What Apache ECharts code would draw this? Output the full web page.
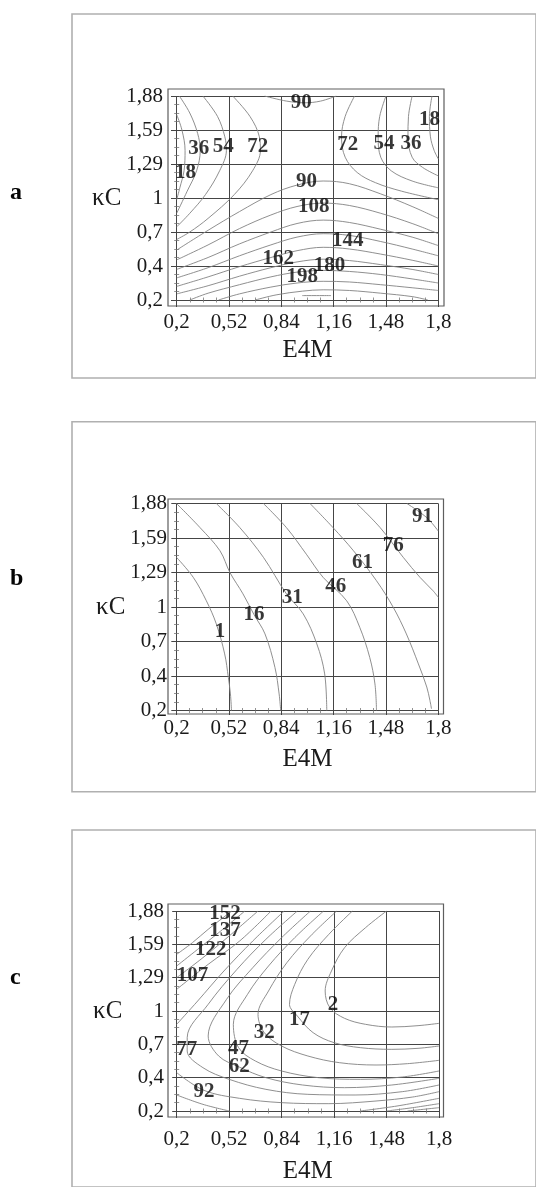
<!DOCTYPE html>
<html><head><meta charset="utf-8">
<script src="https://cdn.jsdelivr.net/npm/echarts@6/dist/echarts.min.js"></script>
<style>html,body{margin:0;padding:0;background:#fff}#c{width:536px;height:1187px}</style>
</head><body><div id="c"></div>
<script>
// ---- tick labels / names ----
const xTickLabels = ['0,2','0,52','0,84','1,16','1,48','1,8'];
const yTickLabels = ['0,2','0,4','0,7','1','1,29','1,59','1,88'];
const panelNames = ['a','b','c'];
const xName = 'E4M';
const yName = 'κC';

// ---- contour polylines, points in tick-index units [x index, y index] ----
const contoursA = [
  [90, [[1.68,6],[2.1,5.85],[2.45,5.8],[2.75,5.85],[3.05,6]]],
  [18, [[0,5.45],[0.1,5.0],[0.16,4.4],[0.14,3.8],[0.06,3.3],[0,2.95]]],
  [36, [[0.05,6],[0.25,5.5],[0.4,4.9],[0.45,4.4],[0.38,3.8],[0.2,3.2],[0,2.55]]],
  [54, [[0.5,6],[0.78,5.4],[0.92,4.8],[0.95,4.4],[0.82,3.8],[0.55,3.1],[0.25,2.55],[0,2.15]]],
  [72, [[1.07,6],[1.4,5.4],[1.58,4.8],[1.6,4.4],[1.45,3.8],[1.1,3.1],[0.6,2.4],[0.25,2.0],[0,1.78]]],
  [72, [[3.4,6],[3.22,5.4],[3.15,4.8],[3.22,4.2],[3.45,3.75],[3.8,3.45],[4.3,3.2],[5,2.95]]],
  [54, [[4.0,6],[3.88,5.4],[3.85,4.8],[3.9,4.2],[4.1,3.8],[4.5,3.5],[5,3.3]]],
  [36, [[4.5,6],[4.43,5.4],[4.42,4.8],[4.5,4.2],[4.7,3.9],[5,3.65]]],
  [18, [[4.88,6],[4.83,5.4],[4.85,4.8],[4.92,4.4],[5,4.15]]],
  [90, [[0,1.47],[0.6,2.05],[1.2,2.6],[1.8,3.1],[2.3,3.38],[2.8,3.5],[3.3,3.42],[3.9,3.12],[4.5,2.75],[5,2.4]]],
  [108,[[0,1.18],[0.6,1.62],[1.2,2.1],[1.8,2.5],[2.3,2.75],[2.8,2.85],[3.3,2.78],[3.9,2.55],[4.5,2.25],[5,1.95]]],
  [126,[[0,0.9],[0.6,1.25],[1.2,1.65],[1.8,2.0],[2.3,2.25],[2.8,2.35],[3.3,2.28],[3.9,2.08],[4.5,1.85],[5,1.6]]],
  [144,[[0,0.65],[0.6,0.95],[1.2,1.3],[1.8,1.62],[2.3,1.85],[2.8,1.95],[3.3,1.9],[3.9,1.72],[4.5,1.5],[5,1.3]]],
  [162,[[0,0.4],[0.6,0.68],[1.2,0.98],[1.8,1.25],[2.3,1.45],[2.8,1.55],[3.3,1.5],[3.9,1.35],[4.5,1.17],[5,1.0]]],
  [180,[[0,0.18],[0.6,0.42],[1.2,0.7],[1.8,0.95],[2.3,1.12],[2.8,1.2],[3.3,1.16],[3.9,1.04],[4.5,0.9],[5,0.75]]],
  [198,[[0.25,0],[0.6,0.2],[1.2,0.45],[1.8,0.68],[2.3,0.82],[2.8,0.87],[3.3,0.84],[3.9,0.75],[4.5,0.62],[5,0.5]]],
  [216,[[0.8,0],[1.2,0.18],[1.8,0.38],[2.3,0.5],[2.8,0.55],[3.3,0.53],[3.9,0.45],[4.5,0.36],[5,0.28]]],
  [234,[[1.5,0],[1.9,0.15],[2.4,0.26],[2.8,0.3],[3.3,0.28],[3.9,0.2],[4.5,0.1],[4.8,0]]],
  [252,[[2.4,0.13],[2.95,0.13]]]
];
const labelsA = [
  [2.38,5.81,'90'],[4.83,5.32,'18'],[0.42,4.46,'36'],[0.89,4.51,'54'],[1.55,4.51,'72'],
  [0.17,3.75,'18'],[3.27,4.56,'72'],[3.96,4.61,'54'],[4.48,4.61,'36'],[2.48,3.48,'90'],
  [2.62,2.75,'108'],[3.27,1.75,'144'],[1.94,1.21,'162'],[2.92,1.01,'180'],[2.4,0.69,'198']
];

const contoursB = [
  [1,  [[0,4.44],[0.32,3.86],[0.57,3.18],[0.76,2.51],[0.92,1.64],[0.99,0.96],[1.03,0.48],[1.05,0]]],
  [16, [[0,6],[0.45,5.3],[0.83,4.63],[1.02,4.0],[1.27,3.38],[1.48,2.78],[1.69,2.22],[1.88,1.25],[1.96,0.48],[1.99,0]]],
  [31, [[0.76,6],[1.21,5.3],[1.66,4.44],[2.1,3.38],[2.42,2.8],[2.68,1.93],[2.83,1.06],[2.87,0]]],
  [46, [[1.66,6],[2.1,5.3],[2.48,4.53],[2.8,3.86],[3.25,3.18],[3.5,2.41],[3.69,1.54],[3.79,0.77],[3.82,0]]],
  [61, [[2.55,6],[2.99,5.3],[3.38,4.63],[3.82,3.76],[4.14,2.99],[4.39,2.22],[4.62,1.35],[4.78,0.68],[4.84,0.29],[4.87,0.05]]],
  [76, [[3.44,6],[3.89,5.3],[4.33,4.44],[4.65,3.86],[4.9,3.47],[5,3.28]]],
  [91, [[4.4,6],[4.78,5.59],[5,5.2]]]
];
const labelsB = [
  [0.83,2.3,'1'],[1.48,2.78,'16'],[2.21,3.28,'31'],[3.04,3.59,'46'],[3.55,4.29,'61'],[4.14,4.77,'76'],[4.7,5.62,'91']
];

const contoursC = [
  [2,  [[4.0,6],[3.6,5.5],[3.2,4.9],[2.95,4.2],[2.83,3.6],[2.92,3.1],[3.2,2.78],[3.6,2.6],[4.1,2.52],[4.6,2.56],[5,2.63]]],
  [17, [[3.35,6],[2.9,5.3],[2.5,4.55],[2.25,3.8],[2.15,3.2],[2.3,2.85],[2.6,2.35],[3.0,2.05],[3.5,1.9],[4.1,1.85],[4.6,1.88],[5,1.95]]],
  [32, [[3.05,6],[2.55,5.25],[2.1,4.45],[1.75,3.6],[1.55,2.9],[1.67,2.35],[2.0,1.95],[2.5,1.65],[3.1,1.45],[3.8,1.38],[4.4,1.42],[5,1.52]]],
  [47, [[2.8,6],[2.25,5.2],[1.75,4.35],[1.35,3.5],[1.08,2.6],[1.18,1.9],[1.5,1.5],[2.0,1.2],[2.7,1.0],[3.5,0.95],[4.3,1.02],[5,1.2]]],
  [62, [[2.55,6],[2.0,5.2],[1.45,4.3],[0.95,3.35],[0.6,2.25],[0.8,1.65],[1.19,1.32],[1.7,1.0],[2.4,0.78],[3.2,0.7],[4.1,0.78],[5,0.98]]],
  [77, [[2.3,6],[1.7,5.15],[1.15,4.25],[0.6,3.2],[0.2,2.2],[0.2,1.8],[0.5,1.3],[1.0,0.95],[1.7,0.65],[2.5,0.5],[3.4,0.48],[4.3,0.58],[5,0.78]]],
  [92, [[2.05,6],[1.45,5.1],[0.9,4.2],[0.4,3.3],[0,2.6]]],
  [92, [[0,1.15],[0.52,0.62],[1.2,0.38],[2.0,0.25],[2.9,0.22],[3.8,0.3],[4.5,0.42],[5,0.58]]],
  [107,[[1.8,6],[1.2,5.1],[0.6,4.4],[0,3.65]]],
  [107,[[0,0.48],[0.5,0.2],[1.0,0]]],
  [107,[[3.5,0],[4.2,0.15],[5,0.38]]],
  [122,[[1.55,6],[1.0,5.25],[0.5,4.6],[0,4.0]]],
  [122,[[4.0,0],[4.5,0.1],[5,0.22]]],
  [137,[[1.3,6],[0.8,5.35],[0.4,4.85],[0,4.35]]],
  [137,[[4.4,0],[5,0.1]]],
  [152,[[1.05,6],[0.6,5.45],[0.3,5.05],[0,4.7]]]
];
const labelsC = [
  [0.92,5.92,'152'],[0.92,5.42,'137'],[0.65,4.83,'122'],[0.3,4.06,'107'],[2.98,3.18,'2'],
  [2.34,2.74,'17'],[1.67,2.34,'32'],[0.19,1.84,'77'],[1.18,1.87,'47'],[1.19,1.32,'62'],[0.52,0.58,'92']
];

// ---- layout (pixels) ----
const layout = [
  {data:[176.7,438.3,96,300], frame:[168,444,89,306], box:[14,378], xm:5.5, ng:32, yl:5, yg:40, yPad:[0,0,0,0], title:181},
  {data:[176.5,438.3,503.5,710.5], frame:[168,443.5,499,714], box:[421.7,791.7], xm:4, ng:33, yl:1, yg:41, yPad:[0,0,8,0], title:567},
  {data:[176.7,439,911,1111], frame:[168,443.5,904,1117], box:[830,1260], xm:12, ng:42, yl:4, yg:43, yPad:[14,0,0,0], title:966}
];
const contours = [contoursA, contoursB, contoursC];
const labels = [labelsA, labelsB, labelsC];

const W = 536, H = 1187;
const serif = "'Liberation Serif','Times New Roman',serif";
const gridCol = '#454545', lineCol = '#828282';

const grids = [], xAxes = [], yAxes = [], series = [], titles = [];
layout.forEach((L, p) => {
  const [dl, dr, dt, db] = L.data, [fl, fr, ft, fb] = L.frame;
  grids.push({left: dl, top: dt, width: dr - dl, height: db - dt});
  grids.push({left: fl, top: ft, width: fr - fl, height: fb - ft, show: true, borderColor: '#5e5e5e', borderWidth: 1.2, backgroundColor: 'transparent'});
  grids.push({left: 72, top: L.box[0], width: 520, height: L.box[1] - L.box[0], show: true, borderColor: '#b0b0b0', borderWidth: 1.6, backgroundColor: 'transparent', z: 0});
  const g = p * 3;
  const tickStyle = {color: gridCol, width: 1};
  const minor = {show: true, splitNumber: 4, length: 2.5, lineStyle: {color: '#777', width: 0.8}};
  xAxes.push({
    type: 'value', gridIndex: g, min: 0, max: 5, interval: 1, position: 'bottom', offset: fb - db,
    axisLine: {show: false},
    axisTick: {show: true, inside: true, length: fb - db, lineStyle: tickStyle},
    minorTick: minor,
    splitLine: {show: true, lineStyle: {color: gridCol, width: 1}},
    axisLabel: {margin: L.xm, formatter: v => xTickLabels[Math.round(v)] || '', fontFamily: serif, fontSize: 21, color: '#1a1a1a'},
    name: xName, nameLocation: 'middle', nameGap: L.ng,
    nameTextStyle: {fontFamily: serif, fontSize: 25, color: '#1a1a1a'}
  });
  xAxes.push({
    type: 'value', gridIndex: g, min: 0, max: 5, interval: 1, position: 'top', offset: dt - ft,
    axisLine: {show: false},
    axisTick: {show: true, inside: true, length: dt - ft, lineStyle: tickStyle},
    minorTick: minor, splitLine: {show: false}, axisLabel: {show: false}
  });
  yAxes.push({
    type: 'value', gridIndex: g, min: 0, max: 6, interval: 1, position: 'left', offset: dl - fl,
    axisLine: {show: false},
    axisTick: {show: true, inside: true, length: dl - fl, lineStyle: tickStyle},
    minorTick: minor,
    splitLine: {show: true, lineStyle: {color: gridCol, width: 1}},
    axisLabel: {margin: L.yl, formatter: v => yTickLabels[Math.round(v)] || '', fontFamily: serif, fontSize: 21, color: '#1a1a1a'},
    name: yName, nameLocation: 'middle', nameRotate: 0, nameGap: L.yg,
    nameTextStyle: {fontFamily: serif, fontSize: 25, color: '#1a1a1a', padding: L.yPad}
  });
  yAxes.push({
    type: 'value', gridIndex: g, min: 0, max: 6, interval: 1, position: 'right', offset: fr - dr,
    axisLine: {show: false},
    axisTick: {show: true, inside: true, length: fr - dr, lineStyle: tickStyle},
    minorTick: minor, splitLine: {show: false}, axisLabel: {show: false}
  });
  for (let k = 1; k <= 2; k++) {
    xAxes.push({type: 'value', gridIndex: g + k, min: 0, max: 1, show: false});
    yAxes.push({type: 'value', gridIndex: g + k, min: 0, max: 1, show: false});
  }
  const ai = p * 4;
  contours[p].forEach(([lvl, pts]) => {
    series.push({
      type: 'line', name: String(lvl), xAxisIndex: ai, yAxisIndex: ai, data: pts,
      smooth: 0.35, showSymbol: false, symbol: 'none', silent: true, clip: true,
      lineStyle: {color: lineCol, width: 0.9}, z: 3
    });
  });
  series.push({
    type: 'scatter', xAxisIndex: ai, yAxisIndex: ai, data: labels[p], symbolSize: 1,
    itemStyle: {color: 'rgba(0,0,0,0)'}, silent: true, z: 5,
    label: {show: true, position: 'inside', formatter: q => q.value[2],
      fontFamily: serif, fontWeight: 'bold', fontSize: 21, color: '#050505'}
  });
  titles.push({text: panelNames[p], left: 10, top: L.title, padding: 0,
    textStyle: {fontFamily: serif, fontWeight: 'bold', fontSize: 24, color: '#050505'}});
});

const chart = echarts.init(document.getElementById('c'), null, {renderer: 'canvas', width: W, height: H});
chart.setOption({
  animation: false, backgroundColor: '#fff',
  title: titles, grid: grids, xAxis: xAxes, yAxis: yAxes, series: series
});
</script></body></html>
